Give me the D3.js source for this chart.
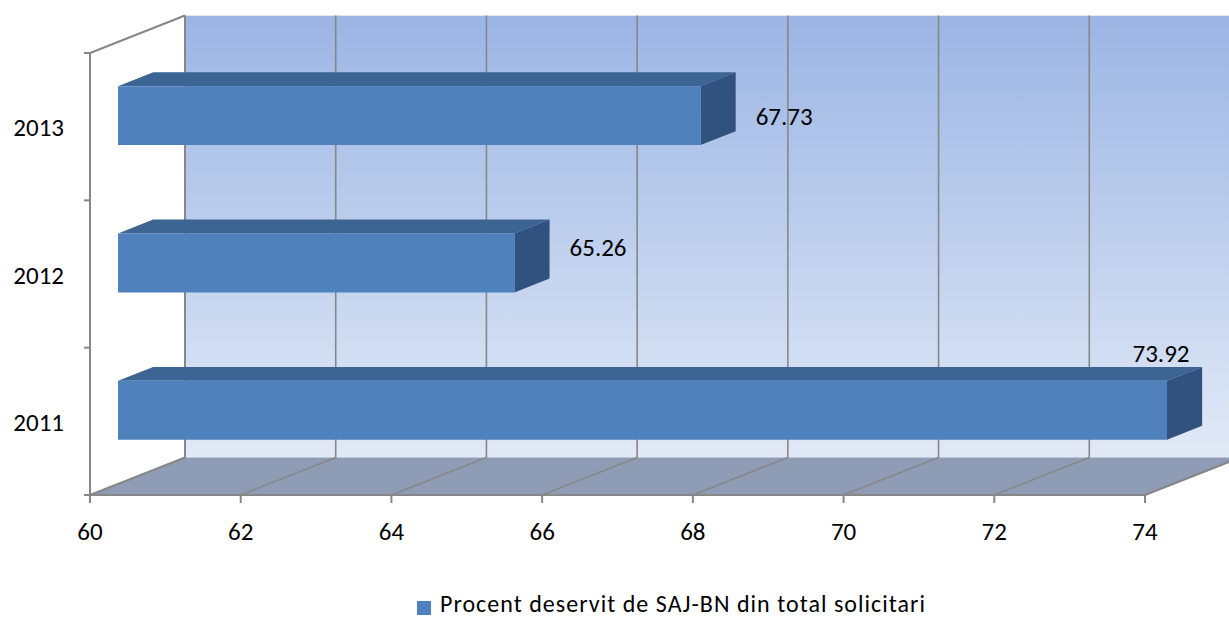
<!DOCTYPE html>
<html><head><meta charset="utf-8">
<script src="https://cdn.jsdelivr.net/npm/d3@7"></script>
<style>
html,body{margin:0;padding:0;background:#fff;}
svg{display:block;font-family:Carlito,Lato,"Open Sans",sans-serif;}
</style></head>
<body>
<svg id="chart" width="1229" height="617"></svg>
<script>
const categories = ["2013", "2012", "2011"];
const values = [67.73, 65.26, 73.92];
const xTicks = [60, 62, 64, 66, 68, 70, 72, 74];
const seriesName = "Procent deservit de SAJ-BN din total solicitari";

(function () {
const svg = d3.select("#chart");
const x = d3.scaleLinear().domain([60, 74]).range([90, 1145]);
const y = d3.scaleBand().domain(categories).range([53, 495]);
const DX = 95, DY = -37.5;        // depth projection
const d0 = 0.295, d1 = 0.665;     // bar depth span
const barH = y.bandwidth() * 0.4;
const P = (px, py, d) => [px + d * DX, py + d * DY];
const yTop = y.range()[0], yBot = y.range()[1];
const axisCol = "#878787";
const FS = 25;

const defs = svg.append("defs");
const g = defs.append("linearGradient").attr("id", "wall").attr("x1", 0).attr("y1", 0).attr("x2", 0).attr("y2", 1);
g.append("stop").attr("offset", "0%").attr("stop-color", "#9bb5e4");
g.append("stop").attr("offset", "100%").attr("stop-color", "#e1e9f6");

const root = svg.append("g");
const line = d3.line();

// back wall
const bw0 = P(x(60), yTop, 1), bw1 = P(x(74), yBot, 1);
root.append("rect").attr("x", bw0[0]).attr("y", bw0[1]).attr("width", bw1[0] - bw0[0]).attr("height", bw1[1] - bw0[1]).attr("fill", "url(#wall)");
root.append("line").attr("x1", bw0[0]).attr("x2", bw1[0]).attr("y1", bw0[1]).attr("y2", bw0[1]).attr("stroke", "#e6e6e6").attr("stroke-width", 1);

// floor
root.append("path").attr("d", line([[x(60), yBot], [x(74), yBot], P(x(74), yBot, 1), P(x(60), yBot, 1)]) + "Z").attr("fill", "#8e9cb5");

// gridlines
xTicks.forEach(t => {
  root.append("path").attr("d", line([[x(t), yBot], P(x(t), yBot, 1), P(x(t), yTop, 1)])).attr("fill", "none").attr("stroke", axisCol).attr("stroke-width", t === 60 ? 2 : 1.6);
});
// floor front edge & right edge
root.append("path").attr("d", line([[x(60), yBot], [x(74), yBot], P(x(74), yBot, 1)])).attr("fill", "none").attr("stroke", axisCol).attr("stroke-width", 2);
// left axis
root.append("path").attr("d", line([[x(60), yBot], [x(60), yTop], P(x(60), yTop, 1)])).attr("fill", "none").attr("stroke", axisCol).attr("stroke-width", 2);
const bounds = categories.map(c => y(c)).concat([yBot]);
bounds.forEach(b => root.append("line").attr("x1", x(60) - 6).attr("x2", x(60)).attr("y1", b).attr("y2", b).attr("stroke", axisCol).attr("stroke-width", 2));
xTicks.forEach(t => root.append("line").attr("x1", x(t)).attr("x2", x(t)).attr("y1", yBot).attr("y2", yBot + 8).attr("stroke", axisCol).attr("stroke-width", 2));

// bars
categories.forEach((c, i) => {
  const v = values[i];
  const cy = y(c) + y.bandwidth() / 2;
  const y0 = cy - barH / 2, y1 = cy + barH / 2;
  const xa = x(60), xb = x(v);
  const fTL = P(xa, y0, d0), fTR = P(xb, y0, d0), fBR = P(xb, y1, d0), fBL = P(xa, y1, d0);
  const bTL = P(xa, y0, d1), bTR = P(xb, y0, d1), bBR = P(xb, y1, d1);
  root.append("path").attr("d", line([fTL, fTR, bTR, bTL]) + "Z").attr("fill", "#3d6594");
  root.append("path").attr("d", line([fTR, fBR, bBR, bTR]) + "Z").attr("fill", "#31527f");
  root.append("path").attr("d", line([fTL, fTR, fBR, fBL]) + "Z").attr("fill", "#4f81bd");
  // data label
  const room = bTR[0] + 20 + 60 < x(74);
  const lbl = root.append("text").attr("font-size", FS).attr("fill", "#000").attr("dominant-baseline", "central").text(v.toFixed(2));
  if (room) {
    const dyl = i === 0 ? 1 : -15;
    lbl.attr("x", bTR[0] + 20).attr("y", fTR[1] + barH / 2 + dyl);
  } else {
    lbl.attr("x", fTR[0] - 6).attr("y", bTR[1] - 13).attr("text-anchor", "middle");
  }
});

// category labels
categories.forEach(c => {
  svg.append("text").attr("x", 64).attr("y", y(c) + y.bandwidth() / 2 + 1).attr("text-anchor", "end").attr("dominant-baseline", "central").attr("font-size", FS).attr("fill", "#000").text(c);
});
// x tick labels
xTicks.forEach(t => {
  svg.append("text").attr("x", x(t)).attr("y", 531).attr("text-anchor", "middle").attr("dominant-baseline", "central").attr("font-size", FS).attr("fill", "#000").text(t);
});

// legend
svg.append("rect").attr("x", 417).attr("y", 601).attr("width", 14).attr("height", 14).attr("fill", "#4f81bd");
svg.append("text").attr("x", 440).attr("y", 612).attr("font-size", 24).attr("fill", "#000")
  .attr("textLength", 485).attr("lengthAdjust", "spacing").text(seriesName);
})();
</script>
</body></html>
